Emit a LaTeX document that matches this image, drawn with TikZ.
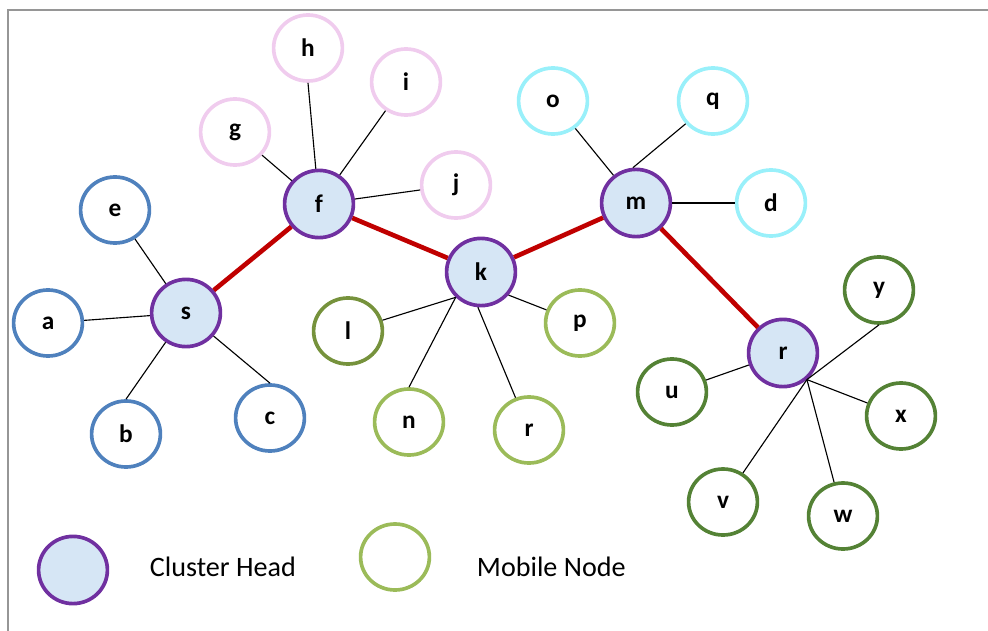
\documentclass[tikz,border=0pt]{standalone}
\usepackage{fontspec}
\setmainfont{Carlito}
\usepackage{tikz}
\usetikzlibrary{shapes.geometric, positioning}
\definecolor{mypurple}{RGB}{112,48,160}
\definecolor{myfill}{RGB}{214,230,245}
\definecolor{myblue}{RGB}{79,129,189}
\definecolor{mypink}{RGB}{240,204,238}
\definecolor{mycyan}{RGB}{153,240,250}
\definecolor{myolive}{RGB}{118,146,60}
\definecolor{mylime}{RGB}{155,187,89}
\definecolor{mygreen}{RGB}{84,130,53}
\definecolor{myred}{RGB}{192,0,0}
\definecolor{myframe}{RGB}{150,150,150}
\tikzset{
  head/.style={ellipse, draw=mypurple, fill=myfill, line width=2.6pt,
    minimum width=1.72cm, minimum height=1.68cm, inner sep=0pt,
    font=\fontsize{18}{20}\selectfont\bfseries},
  member/.style={ellipse, line width=2.6pt, fill=white,
    minimum width=1.72cm, minimum height=1.65cm, inner sep=0pt,
    font=\fontsize{18}{20}\selectfont\bfseries},
  link/.style={line width=0.8pt, color=black},
  backbone/.style={line width=3.3pt, color=myred},
  legend/.style={font=\fontsize{20}{24}\selectfont, anchor=west}
}

\begin{document}
\begin{tikzpicture}[x=0.025cm, y=-0.025cm]
  \useasboundingbox (0,0) rectangle (988,631);
  \draw[myframe, line width=1.2pt] (8,631) -- (8,10) -- (988,10);

  % cluster heads
  \node[head] (s) at (186,313) {s};
  \node[head] (f) at (319,204) {f};
  \node[head] (k) at (481,272) {k};
  \node[head] (m) at (636,203) {m};
  \node[head] (rh) at (783,353) {r};

  % members of s
  \node[member, draw=myblue] (e) at (115,210) {e};
  \node[member, draw=myblue] (a) at (48,323) {a};
  \node[member, draw=myblue] (b) at (126,434) {b};
  \node[member, draw=myblue] (c) at (270,418) {c};
  % members of f
  \node[member, draw=mypink] (g) at (235,132) {g};
  \node[member, draw=mypink] (h) at (308,48) {h};
  \node[member, draw=mypink] (i) at (406,82) {i};
  \node[member, draw=mypink] (j) at (456,185) {j};
  % members of k
  \node[member, draw=myolive] (l) at (348,331) {l};
  \node[member, draw=mylime] (n) at (409,422) {n};
  \node[member, draw=mylime] (r2) at (529,430) {r};
  \node[member, draw=mylime] (p) at (580,323) {p};
  % members of m
  \node[member, draw=mycyan] (o) at (553,101) {o};
  \node[member, draw=mycyan] (q) at (713,101) {q};
  \node[member, draw=mycyan] (d) at (771,203) {d};
  % members of r
  \node[member, draw=mygreen] (y) at (879,290) {y};
  \node[member, draw=mygreen] (u) at (672,392) {u};
  \node[member, draw=mygreen] (x) at (901,416) {x};
  \node[member, draw=mygreen] (v) at (723,502) {v};
  \node[member, draw=mygreen] (w) at (843,516) {w};

  % backbone between heads
  \draw[backbone] (s) -- (f);
  \draw[backbone] (f) -- (k);
  \draw[backbone] (k) -- (m);
  \draw[backbone] (m) -- (rh);

  % member links
  \draw[link] (e) -- (s);
  \draw[link] (a) -- (s);
  \draw[link] (b.north) -- (s);
  \draw[link] (c.north) -- (s);
  \draw[link] (g) -- (f);
  \draw[link] (h.south) -- (f);
  \draw[link] (i) -- (f);
  \draw[link] (j) -- (f);
  \draw[link] (l) -- (k.-135);
  \draw[link] (n.north) -- (k.-135);
  \draw[link] (r2) -- (k.-95);
  \draw[link] (p) -- (k.-40);
  \draw[link] (o) -- (m);
  \draw[link] (q) -- (m.95);
  \draw[link] (d) -- (m);
  \draw[link] (u) -- (rh);
  \draw[link] (y.south) -- (rh.-48);
  \draw[link] (x) -- (rh.-48);
  \draw[link] (v) -- (rh.-48);
  \draw[link] (w) -- (rh.-48);

  % legend
  \node[head] (lhead) at (73,570) {};
  \node[legend] (lheadtxt) at (145,567) {Cluster Head};
  \node[member, draw=mylime] (lmember) at (395,557) {};
  \node[legend] (lmembertxt) at (472,567) {Mobile Node};
\end{tikzpicture}
\end{document}
